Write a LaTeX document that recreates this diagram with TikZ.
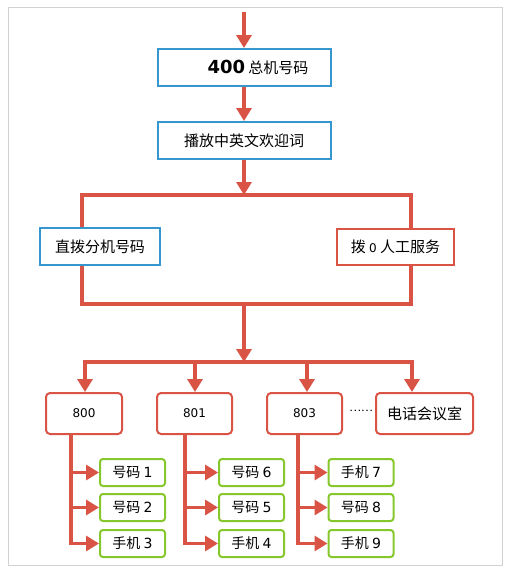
\documentclass[tikz,border=0pt]{standalone}
\usepackage{fontspec}
\setmainfont{Noto Sans CJK SC}
\newfontfamily\numfont{DejaVu Sans}
\usetikzlibrary{arrows.meta,calc}
\definecolor{myred}{RGB}{218,84,70}
\definecolor{myblue}{RGB}{52,152,206}
\definecolor{mygreen}{RGB}{134,200,44}
\definecolor{mygray}{RGB}{210,210,210}

\begin{document}
\begin{tikzpicture}[x=1pt, y=-1pt,
    line/.style={myred, line width=3.6pt, line join=miter},
    arr/.style={line, -{Triangle[width=15pt,length=13pt]}},
    box/.style={draw, line width=2pt, fill=white, inner sep=0pt},
    bluebox/.style={box, draw=myblue, font=\fontsize{15}{18}\selectfont},
    redbox/.style={box, draw=myred, font=\fontsize{15}{18}\selectfont},
    extbox/.style={box, draw=myred, rounded corners=4pt, minimum height=41pt,
        font=\numfont\fontsize{12}{14}\selectfont},
    greenbox/.style={box, draw=mygreen, rounded corners=3pt, minimum width=65pt,
        minimum height=27pt, font=\fontsize{14}{16}\selectfont}]

    % --- Marco y fondo ---
    \useasboundingbox (0,0) rectangle (510,579);
    \fill[white] (0,0) rectangle (510,579);
    \draw[mygray, line width=1pt] (8,7) rectangle (502,565);

    % --- Cajas principales ---
    \node[bluebox, minimum width=173pt, minimum height=37pt] (main) at (244,67.5)
        {\hspace*{28pt}{\numfont\bfseries\fontsize{18}{18}\selectfont 400} 总机号码};
    \node[bluebox, minimum width=173pt, minimum height=37pt] (welcome) at (244,140.5)
        {播放中英文欢迎词};
    \node[bluebox, minimum width=120pt, minimum height=37pt] (direct) at (100,246.5)
        {直拨分机号码};
    \node[redbox, minimum width=117pt, minimum height=36pt] (human) at (395.5,247)
        {拨 {\numfont\fontsize{12}{14}\selectfont 0} 人工服务};

    % --- Extensiones ---
    \foreach \n/\x/\w/\t in {e800/84/76/800, e801/194.5/75/801, e803/304.5/75/803}
        \node[extbox, minimum width=\w pt] (\n) at (\x,413.5) {\t};
    \node[extbox, minimum width=97pt, font=\fontsize{15}{18}\selectfont] (conf)
        at (424.5,413.5) {电话会议室};
    \node[inner sep=0pt, font=\fontsize{11}{11}\selectfont] (dots) at (361,411) {……};

    % --- Puntos de unión ---
    \coordinate (in) at (244,12);
    \coordinate (jL) at (82,195);
    \coordinate (jR) at (411,195);
    \coordinate (mL) at (82,304);
    \coordinate (mR) at (411,304);
    \coordinate (mC) at (244,304);
    \coordinate (bC) at (244,362);
    \coordinate (b0) at (85,362);
    \coordinate (b3) at (412,362);

    % --- Conectores del tronco ---
    \draw[arr] (in) -- (main);
    \draw[arr] (main) -- (welcome);
    \draw[arr] (welcome) -- (welcome |- jL);
    \draw[line] (direct.north -| jL) -- (jL) -- (jR) -- (human.north -| jR);
    \draw[line] (direct.south -| jL) -- (mL) -- (mR) -- (human.south -| jR);
    \draw[arr] (mC) -- (bC);
    \draw[line, line cap=rect] (b0) -- (b3);
    \foreach \n/\x in {e800/85, e801/195, e803/307, conf/412} {
        \coordinate (t-\n) at (\x,362);
        \draw[arr] (t-\n) -- (\n.north -| t-\n);
    }

    % --- Destinos de cada extensión ---
    \foreach \e/\vx/\gx/\ta/\tb/\tc in {
        e800/71/132.5/号码 {\numfont 1}/号码 {\numfont 2}/手机 {\numfont 3},
        e801/185/251.5/号码 {\numfont 6}/号码 {\numfont 5}/手机 {\numfont 4},
        e803/298/361/手机 {\numfont 7}/号码 {\numfont 8}/手机 {\numfont 9}}{
        \coordinate (\e-v) at (\vx,0);
        \node[greenbox] (\e-a) at (\gx,472.5) {\ta};
        \node[greenbox] (\e-b) at (\gx,507.5) {\tb};
        \node[greenbox] (\e-c) at (\gx,543.5) {\tc};
        \draw[arr] (\e.south -| \e-v) |- (\e-c);
        \draw[arr] (\e-a.west -| \e-v) -- (\e-a);
        \draw[arr] (\e-b.west -| \e-v) -- (\e-b);
    }

\end{tikzpicture}
\end{document}
